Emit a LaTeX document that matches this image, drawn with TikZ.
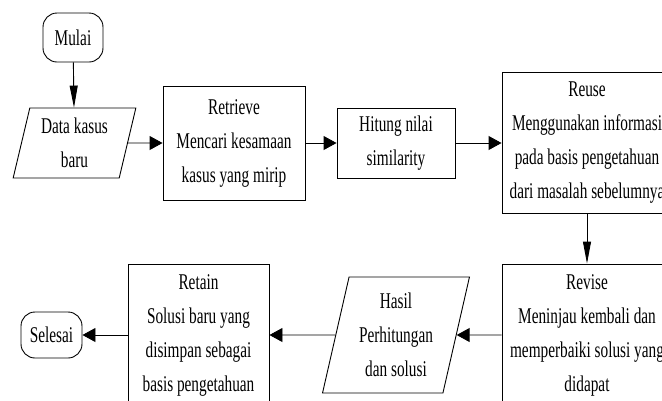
\documentclass[tikz,border=0pt]{standalone}
\usepackage{fontspec}
\setmainfont{Liberation Serif}[FakeStretch=0.68]
\usetikzlibrary{shapes.geometric,arrows.meta}

\begin{document}
\begin{tikzpicture}[x=1pt,y=-1pt,line width=.9pt,
    every node/.style={font=\fontsize{22.5}{34}\selectfont,align=center,inner sep=0pt},
    terminal/.style={draw,rectangle,rounded corners=14pt},
    proses/.style={draw,rectangle},
    dataio/.style={draw,trapezium,trapezium left angle=76,trapezium right angle=104,trapezium stretches=true},
    panah/.style={-{Triangle[length=13pt,width=14pt]}},
    panahbawah/.style={-{Triangle[length=22pt,width=8pt]}}]
      \pgfmathsetmacro{\ya}{143}
      \pgfmathsetmacro{\yb}{335}

      \useasboundingbox (0,0) rectangle (662,400);
      \clip (0,0) rectangle (662,400);

      \node[terminal,minimum width=60pt,minimum height=49pt] (mulai) at (73,37.5) {Mulai};
      \node[dataio,minimum width=123pt,minimum height=70pt] (data) at (74.5,\ya) {Data kasus\\baru};
      \node[proses,minimum width=142pt,minimum height=114pt] (retrieve) at (234,\ya) {Retrieve\\Mencari kesamaan\\kasus yang mirip};
      \node[proses,minimum width=118pt,minimum height=70pt] (hitung) at (396,\ya) {Hitung nilai\\similarity};
      \node[proses,minimum width=170pt,minimum height=141pt] (reuse) at (587,\ya) {Reuse\\Menggunakan informasi\\pada basis pengetahuan\\dari masalah sebelumnya};

      \node[proses,minimum width=170pt,minimum height=142pt] (revise) at (587,\yb) {Revise\\Meninjau kembali dan\\memperbaiki solusi yang\\didapat};
      \node[dataio,minimum width=147pt,minimum height=116pt] (hasil) at (396,\yb) {Hasil\\Perhitungan\\dan solusi};
      \node[proses,minimum width=141pt,minimum height=142pt] (retain) at (198.5,\yb) {Retain\\Solusi baru yang\\disimpan sebagai\\basis pengetahuan};
      \node[terminal,minimum width=61pt,minimum height=46pt] (selesai) at (51.5,\yb) {Selesai};

      \draw[panahbawah] (mulai) -- (data);
      \draw[panah] (data) -- (retrieve);
      \draw[panah] (retrieve) -- (hitung);
      \draw[panah] (hitung) -- (reuse);
      \draw[panahbawah] (reuse) -- (revise);
      \draw[panah] (revise) -- (hasil);
      \draw[panah] (hasil) -- (retain);
      \draw[panah] (retain) -- (selesai);
    \end{tikzpicture}
\end{document}
